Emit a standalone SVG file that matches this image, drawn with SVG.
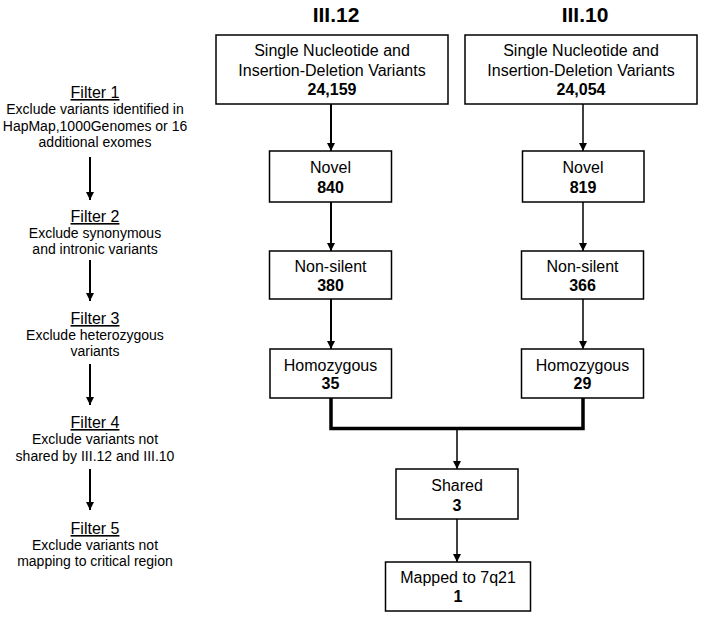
<svg xmlns="http://www.w3.org/2000/svg" width="703" height="619" viewBox="0 0 703 619">
<style>
text{font-family:"Liberation Sans",Arial,sans-serif;fill:#000;text-anchor:middle}
.t{font-size:16px}
.b{font-size:16px;font-weight:bold}
.h{font-size:21px;font-weight:bold}
.f{font-size:16px;text-decoration:underline}
.d{font-size:14px}
rect{fill:#fff;stroke:#000;stroke-width:1.5}
.c{stroke:#000;fill:none}
</style>
<defs>
<marker id="ah" viewBox="0 0 10 10" refX="10" refY="5" markerWidth="8" markerHeight="9" markerUnits="userSpaceOnUse" orient="auto">
<path d="M0,0 L10,5 L0,10 Z" fill="#000"/>
</marker>
</defs>
<rect x="0" y="0" width="703" height="619" style="stroke:none;fill:#fff"/>
<text class="h" x="336" y="22">III.12</text>
<text class="h" x="585" y="22">III.10</text>

<g id="filters">
<g id="filter1"><text class="f" x="95" y="98">Filter 1</text><text class="d" x="95" y="114">Exclude variants identified in</text><text class="d" x="95" y="131">HapMap,1000Genomes or 16</text><text class="d" x="95" y="147">additional exomes</text></g>
<g id="filter2"><text class="f" x="95" y="222">Filter 2</text><text class="d" x="95" y="238">Exclude synonymous</text><text class="d" x="95" y="254">and intronic variants</text></g>
<g id="filter3"><text class="f" x="95" y="324">Filter 3</text><text class="d" x="95" y="340">Exclude heterozygous</text><text class="d" x="95" y="356">variants</text></g>
<g id="filter4"><text class="f" x="95" y="428">Filter 4</text><text class="d" x="95" y="444">Exclude variants not</text><text class="d" x="95" y="461">shared by III.12 and III.10</text></g>
<g id="filter5"><text class="f" x="95" y="534">Filter 5</text><text class="d" x="95" y="550">Exclude variants not</text><text class="d" x="95" y="566">mapping to critical region</text></g>
</g>

<g id="connectors">
<line class="c" x1="90" y1="157" x2="90" y2="200" stroke-width="2" marker-end="url(#ah)"/>
<line class="c" x1="90" y1="260" x2="90" y2="301" stroke-width="2" marker-end="url(#ah)"/>
<line class="c" x1="90" y1="364" x2="90" y2="405" stroke-width="2" marker-end="url(#ah)"/>
<line class="c" x1="90" y1="469" x2="90" y2="510" stroke-width="2" marker-end="url(#ah)"/>
<line class="c" x1="331" y1="104" x2="331" y2="151" stroke-width="2" marker-end="url(#ah)"/>
<line class="c" x1="331" y1="202" x2="331" y2="251" stroke-width="2" marker-end="url(#ah)"/>
<line class="c" x1="331" y1="299" x2="331" y2="349" stroke-width="2" marker-end="url(#ah)"/>
<line class="c" x1="583" y1="104" x2="583" y2="151" stroke-width="1.5" marker-end="url(#ah)"/>
<line class="c" x1="583" y1="202" x2="583" y2="251" stroke-width="1.5" marker-end="url(#ah)"/>
<line class="c" x1="583" y1="299" x2="583" y2="349" stroke-width="1.5" marker-end="url(#ah)"/>
<path class="c" d="M331,398 V428.5 H583 V398" stroke-width="3.5"/>
<line class="c" x1="457" y1="430" x2="457" y2="469" stroke-width="1.5" marker-end="url(#ah)"/>
<line class="c" x1="457" y1="519" x2="457" y2="562" stroke-width="1.5" marker-end="url(#ah)"/>
</g>

<g id="a1"><rect x="216" y="35" width="232" height="69"/><text class="t" x="332" y="56">Single Nucleotide and</text><text class="t" x="332" y="76">Insertion-Deletion Variants</text><text class="b" x="332" y="95">24,159</text></g>
<g id="b1"><rect x="465" y="35" width="232" height="69"/><text class="t" x="581" y="56">Single Nucleotide and</text><text class="t" x="581" y="76">Insertion-Deletion Variants</text><text class="b" x="581" y="95">24,054</text></g>
<g id="a2"><rect x="269.5" y="151" width="122" height="51"/><text class="t" x="330.5" y="173">Novel</text><text class="b" x="330.5" y="193">840</text></g>
<g id="b2"><rect x="522.5" y="151" width="121.5" height="51"/><text class="t" x="583" y="173">Novel</text><text class="b" x="583" y="193">819</text></g>
<g id="a3"><rect x="269.5" y="251" width="122" height="48"/><text class="t" x="330.5" y="272">Non-silent</text><text class="b" x="330.5" y="291">380</text></g>
<g id="b3"><rect x="521.5" y="251" width="122" height="48"/><text class="t" x="582.5" y="272">Non-silent</text><text class="b" x="582.5" y="291">366</text></g>
<g id="a4"><rect x="270" y="349" width="121.5" height="49"/><text class="t" x="330.5" y="371">Homozygous</text><text class="b" x="330.5" y="389">35</text></g>
<g id="b4"><rect x="521.5" y="349" width="122" height="49"/><text class="t" x="582.5" y="371">Homozygous</text><text class="b" x="582.5" y="389">29</text></g>
<g id="shared"><rect x="396" y="469" width="122" height="50"/><text class="t" x="457" y="491">Shared</text><text class="b" x="457" y="511">3</text></g>
<g id="mapped"><rect x="385.5" y="562" width="145" height="49"/><text class="t" x="458" y="583">Mapped to 7q21</text><text class="b" x="458" y="602">1</text></g>
</svg>
